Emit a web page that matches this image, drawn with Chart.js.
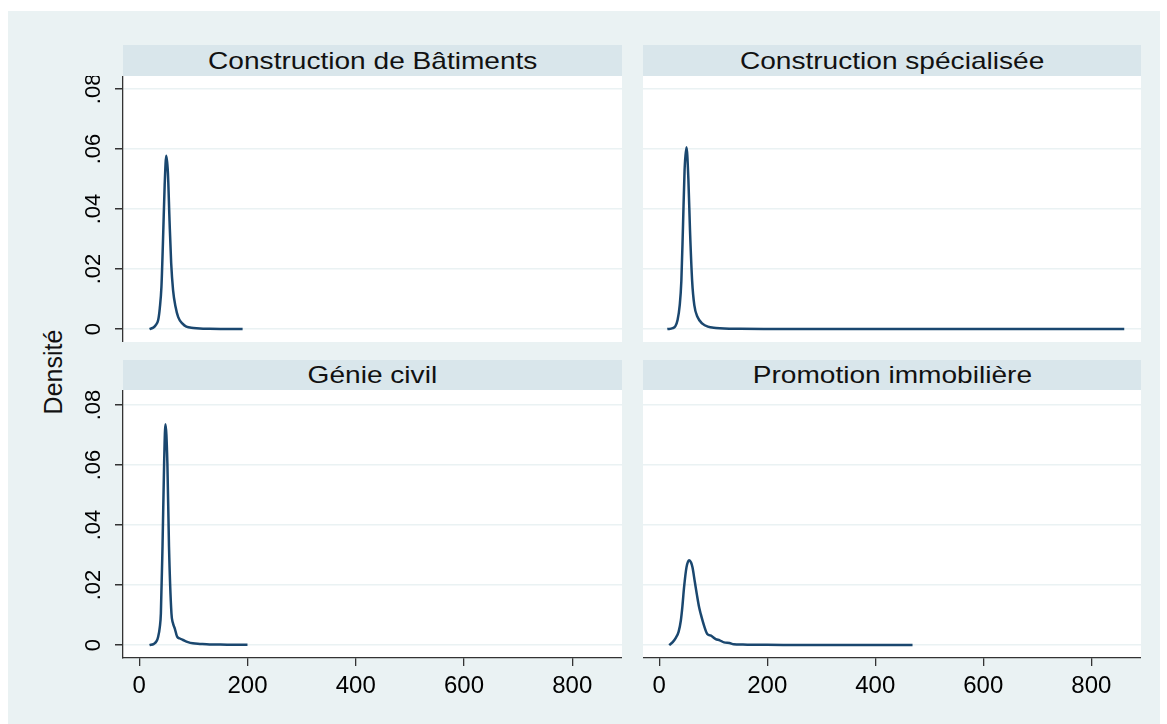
<!DOCTYPE html>
<html lang="fr">
<head>
  <meta charset="UTF-8">
  <title>Densité par secteur</title>
  <script src="https://cdn.jsdelivr.net/npm/chart.js"></script>
  <style>
    body {
      margin: 0;
      background: #fff;
      font-family: "Liberation Sans", Arial, sans-serif;
    }

    #frame {
      position: absolute;
      left: 8px;
      top: 11px;
      width: 1152px;
      height: 713px;
      background: #eaf2f3;
    }

    .panel {
      position: absolute;
    }

    .strip {
      position: absolute;
      background: #d9e6eb;
      color: #111;
      font-size: 24px;
      text-align: center;
      white-space: nowrap;
    }

    .strip span {
      display: inline-block;
      transform: scaleX(1.17);
    }

    #ylab {
      position: absolute;
      left: 53px;
      top: 372px;
      font-size: 25px;
      color: #111;
      white-space: nowrap;
      transform: translate(-50%, -50%) rotate(-90deg);
    }
  </style>
</head>
<body>
  <div id="frame"></div>

  <div class="strip" style="left:123px; top:45px; width:499px; height:31px; line-height:31px;"><span>Construction de Bâtiments</span></div>
  <div class="strip" style="left:643px; top:45px; width:498px; height:31px; line-height:31px;"><span>Construction spécialisée</span></div>
  <div class="strip" style="left:123px; top:360px; width:499px; height:30px; line-height:30px;"><span>Génie civil</span></div>
  <div class="strip" style="left:643px; top:360px; width:498px; height:30px; line-height:30px;"><span>Promotion immobilière</span></div>
  <div id="ylab">Densité</div>

  <div class="panel" style="left:8px; top:76px; width:614px; height:266px;"><canvas id="c1"></canvas></div>
  <div class="panel" style="left:643px; top:76px; width:498px; height:266px;"><canvas id="c2"></canvas></div>
  <div class="panel" style="left:8px; top:390px; width:614px; height:334px;"><canvas id="c3"></canvas></div>
  <div class="panel" style="left:643px; top:390px; width:498px; height:334px;"><canvas id="c4"></canvas></div>

  <script>
    // tick values
    const xTicks = [0, 200, 400, 600, 800];
    const yTicks = [0, 0.02, 0.04, 0.06, 0.08];

    // Construction de Bâtiments
    const batimentsX = [19, 25, 30, 35, 38, 41, 44, 47, 50, 53, 56, 59, 62.5, 67, 72, 80, 87, 100, 112, 130, 150, 170, 191];
    const batimentsY = [0, 0.0004, 0.0012, 0.003, 0.007, 0.014, 0.030, 0.048, 0.0577, 0.052, 0.036, 0.022, 0.013, 0.0075, 0.004, 0.0018, 0.0008, 0.0004, 0.0002, 0.0001, 0.00005, 0.00003, 0.00002];

    // Construction spécialisée
    const specialiseeX = [15, 25, 30, 34, 38, 41, 44, 47, 50.5, 54, 57, 61, 65, 71, 80, 90, 105, 120, 150, 200, 300, 400, 500, 600, 700, 800, 861];
    const specialiseeY = [0, 0.0003, 0.001, 0.003, 0.008, 0.016, 0.034, 0.053, 0.0606, 0.050, 0.033, 0.016, 0.008, 0.004, 0.0018, 0.0008, 0.0004, 0.0002, 0.0001, 0.00005, 0.00003, 0.00002, 0.00001, 0.00001, 0, 0, 0];

    // Génie civil
    const genieX = [19, 27, 32, 35, 38, 40, 43, 46, 48.4, 52, 55, 59.5, 62, 65.6, 70, 75, 81, 90, 99, 112, 130, 150, 175, 200];
    const genieY = [0, 0.0004, 0.0013, 0.0028, 0.006, 0.0106, 0.0328, 0.0606, 0.0736, 0.0606, 0.0328, 0.0106, 0.0075, 0.0056, 0.0028, 0.0022, 0.0017, 0.001, 0.0006, 0.0004, 0.0002, 0.0002, 0.0001, 0.0001];

    // Promotion immobilière
    const promotionX = [18.5, 25, 31, 36, 40, 43, 46, 50.5, 55.4, 59, 61.6, 66, 69.6, 74, 77, 83, 89, 95, 104.6, 112, 120, 130, 138, 155, 175, 200, 250, 300, 350, 400, 469];
    const promotionY = [0, 0.001, 0.0025, 0.0045, 0.0081, 0.013, 0.0192, 0.0259, 0.0283, 0.0275, 0.0259, 0.021, 0.017, 0.0125, 0.0103, 0.0065, 0.0037, 0.0032, 0.002, 0.0016, 0.0009, 0.0007, 0.0003, 0.0002, 0.0001, 0.0001, 0.00005, 0.00003, 0.00002, 0.00001, 0.00001];

    Chart.defaults.font.family = "'Liberation Sans', Arial, sans-serif";
    Chart.defaults.color = '#000';

    const plotBg = {
      id: 'plotBg',
      beforeDraw(chart) {
        const a = chart.chartArea;
        const ctx = chart.ctx;
        ctx.save();
        ctx.fillStyle = '#fff';
        ctx.fillRect(a.left, a.top, a.right - a.left, a.bottom - a.top);
        ctx.restore();
      }
    };

    function noPad(s) {
      s.paddingTop = 0;
      s.paddingBottom = 0;
      s.paddingLeft = 0;
      s.paddingRight = 0;
    }

    function makePanel(id, xs, ys, showY, showX, yMax) {
      const pts = xs.map((x, i) => ({ x: x, y: ys[i] }));
      return new Chart(document.getElementById(id), {
        type: 'line',
        data: {
          datasets: [{
            data: pts,
            borderColor: '#1a476f',
            borderWidth: 2.5,
            pointRadius: 0,
            cubicInterpolationMode: 'monotone',
            fill: false
          }]
        },
        options: {
          responsive: true,
          maintainAspectRatio: false,
          animation: false,
          layout: { padding: 0 },
          plugins: { legend: { display: false }, tooltip: { enabled: false } },
          scales: {
            x: {
              type: 'linear',
              min: -30,
              max: 892,
              display: showX,
              afterBuildTicks: s => { s.ticks = xTicks.map(v => ({ value: v })); },
              afterFit: s => { s.height = showX ? 66 : 0; noPad(s); },
              grid: { drawOnChartArea: false, tickLength: 8, tickColor: '#333', lineWidth: 1.3 },
              border: { display: true, color: '#333', width: 1.3 },
              ticks: { font: { size: 24 }, padding: 6, maxRotation: 0 }
            },
            y: {
              min: -0.0043,
              max: yMax,
              afterBuildTicks: s => { s.ticks = yTicks.map(v => ({ value: v })); },
              afterFit: s => { s.width = showY ? 115 : 0; noPad(s); },
              grid: {
                color: '#eaf2f3',
                lineWidth: 1.5,
                drawTicks: showY,
                tickLength: 8,
                tickColor: '#333'
              },
              border: { display: showY, color: '#333', width: 1.3 },
              ticks: {
                display: showY,
                font: { size: 22 },
                minRotation: 90,
                maxRotation: 90,
                crossAlign: 'center',
                padding: 6,
                callback: v => v === 0 ? '0' : v.toFixed(2).replace(/^0/, '')
              }
            }
          }
        },
        plugins: [plotBg]
      });
    }

    makePanel('c1', batimentsX, batimentsY, true, false, 0.0843);
    makePanel('c2', specialiseeX, specialiseeY, false, false, 0.0843);
    makePanel('c3', genieX, genieY, true, true, 0.085);
    makePanel('c4', promotionX, promotionY, false, true, 0.085);
  </script>
</body>
</html>
